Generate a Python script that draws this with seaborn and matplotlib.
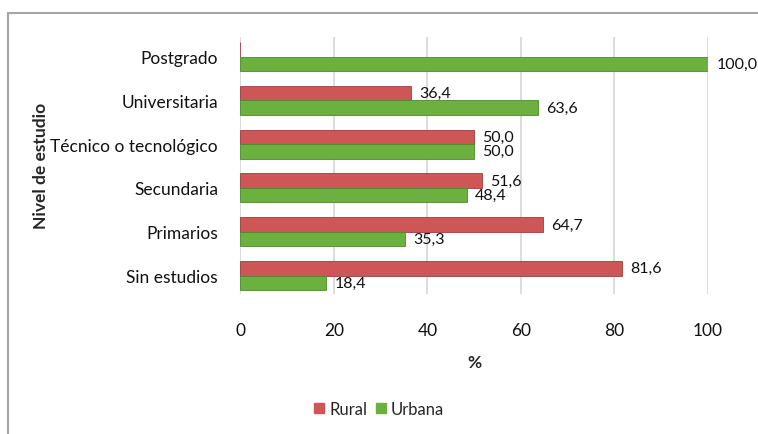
import matplotlib
matplotlib.use("Agg")
import matplotlib.pyplot as plt
import matplotlib.patches as mpatches
import pandas as pd
import seaborn as sns

# %% Data
niveles = ["Postgrado", "Universitaria", "Técnico o tecnológico",
           "Secundaria", "Primarios", "Sin estudios"]
rural = [0.0, 36.4, 50.0, 51.6, 64.7, 81.6]
urbana = [100.0, 63.6, 50.0, 48.4, 35.3, 18.4]
x_ticks = [0, 20, 40, 60, 80, 100]

df = pd.DataFrame({
    "nivel": niveles * 2,
    "zona": ["Rural"] * len(niveles) + ["Urbana"] * len(niveles),
    "pct": rural + urbana,
})

# %% Plot
sns.set_theme(style="white")
plt.rcParams["font.family"] = ["Lato", "DejaVu Sans"]

fig = plt.figure(figsize=(7.58, 4.35), dpi=100)
ax = fig.add_axes([0.317, 0.322, 0.617, 0.591])

colors = {"Rural": "#CF5656", "Urbana": "#6CB03F"}
sns.barplot(data=df, y="nivel", x="pct", hue="zona", order=niveles,
            hue_order=["Rural", "Urbana"], palette=colors, orient="h",
            width=0.66, ax=ax, legend=False, saturation=1)

edge = {"Rural": "#9E3B3B", "Urbana": "#4C8A2A"}
for cont, zona in zip(ax.containers, ["Rural", "Urbana"]):
    for bar in cont:
        bar.set_edgecolor(edge[zona])
        bar.set_linewidth(0.6)
    labels = [f"{v:.1f}".replace(".", ",") if v > 0 else "" for v in cont.datavalues]
    ax.bar_label(cont, labels=labels, padding=6, fontsize=11.5, color="#111111")

ax.set_xlim(0, 100)
ax.set_ylim(5.42, -0.45)
ax.set_xticks(x_ticks)
ax.xaxis.grid(True, color="#D6D6D6", linewidth=1.2)
ax.set_axisbelow(True)
for s in ax.spines.values():
    s.set_visible(False)
ax.tick_params(axis="x", length=0, pad=20, labelsize=12.5, colors="#111111")
ax.tick_params(axis="y", length=0, pad=16, labelsize=12.5, colors="#111111")
ax.set_xlabel("%", fontsize=12.5, fontweight="bold", labelpad=12)
ax.set_ylabel("Nivel de estudio", fontsize=12.5, fontweight="bold")
ax.yaxis.set_label_coords(-0.41, 0.5)

handles = [mpatches.Patch(color=colors[z], label=z) for z in ["Rural", "Urbana"]]
fig.legend(handles=handles, loc="center", bbox_to_anchor=(0.5, 1 - 410 / 435),
           ncol=2, frameon=False, fontsize=12, handlelength=0.6, handleheight=0.6,
           handletextpad=0.3, columnspacing=0.5)

# chart frame (left and top edges visible)
fig.patches.append(mpatches.Rectangle((8 / 758, -0.05), 1.0, 1 - 14 / 435 + 0.05,
                                      transform=fig.transFigure, fill=False,
                                      edgecolor="#A6A6A6", linewidth=1.5))

fig.savefig("out.png", dpi=100)
